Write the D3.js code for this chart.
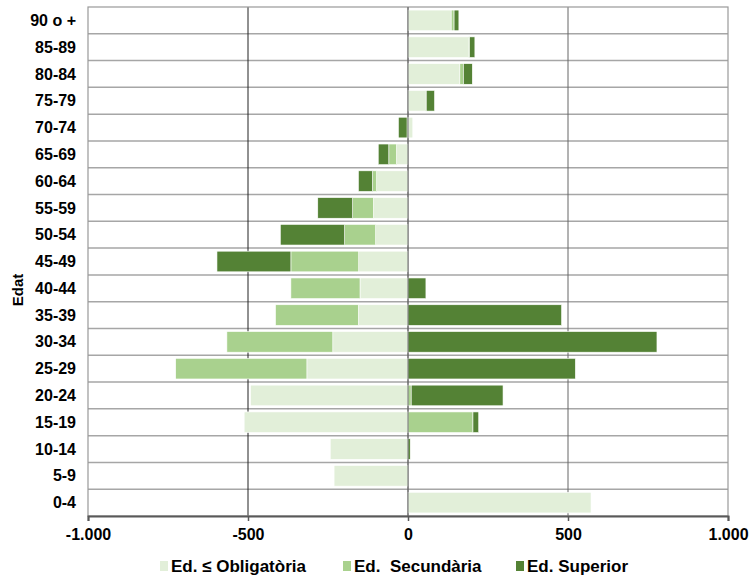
<!DOCTYPE html>
<html>
<head>
<meta charset="utf-8">
<script src="https://cdn.jsdelivr.net/npm/d3@7"></script>
<style>
  body { margin: 0; background: #fff; }
  svg text { font-family: "Liberation Sans", Arial, sans-serif; font-weight: bold; fill: #000; }
</style>
</head>
<body>
<svg id="chart" width="752" height="579"></svg>
<script>
const ages = ["90 o +", "85-89", "80-84", "75-79", "70-74", "65-69", "60-64", "55-59", "50-54",
  "45-49", "40-44", "35-39", "30-34", "25-29", "20-24", "15-19", "10-14", "5-9", "0-4"];
const obligatoria = [135, 189, 162, 54, 15, -36, -98, -108, -101, -154, -150, -155, -235, -316, -492, -512, -243, -231, 572];
const secundaria = [9, 3, 11, 3, -3, -24, -13, -65, -97, -212, -216, -259, -331, -410, 10, 203, 0, 0, 0];
const superior = [15, 17, 28, 26, -27, -33, -44, -109, -201, -231, 56, 480, 778, 523, 287, 18, 7, 0, 0];
const seriesNames = ["Ed. \u2264 Obligat\u00f2ria", "Ed.\u00a0 Secund\u00e0ria", "Ed. Superior"];
const colors = ["#e2efd9", "#a9d18e", "#548235"];
const xTicks = [-1000, -500, 0, 500, 1000];

const svg = d3.select("#chart");
const margin = { top: 7, left: 88, right: 24, bottom: 63 };

const x = d3.scaleLinear().domain([-1000, 1000]).range([margin.left, 728]);
const y = d3.scaleBand().domain(ages).range([margin.top, 516]).paddingInner(0).paddingOuter(0);

// horizontal grid lines between categories
const g = svg.append("g");
ages.forEach((a, i) => {
  if (i === 0) return;
  g.append("line")
    .attr("x1", x(-1000)).attr("x2", x(1000))
    .attr("y1", y(a)).attr("y2", y(a))
    .attr("stroke", "#a6a6a6").attr("stroke-width", 1.5);
});

// vertical grid lines
[-500, 0, 500].forEach(v => {
  g.append("line")
    .attr("x1", x(v)).attr("x2", x(v))
    .attr("y1", margin.top).attr("y2", 516)
    .attr("stroke", v === -500 ? "#222" : "#666").attr("stroke-width", 1);
});

// plot border
svg.append("rect")
  .attr("x", x(-1000)).attr("y", margin.top)
  .attr("width", x(1000) - x(-1000)).attr("height", 516 - margin.top)
  .attr("fill", "none").attr("stroke", "#999").attr("stroke-width", 1.2);

// stack bars: positives go right, negatives go left
const series = [obligatoria, secundaria, superior];
const bh = y.bandwidth() * 0.77;
ages.forEach((a, i) => {
  let pos = 0, neg = 0;
  series.forEach((s, k) => {
    const v = s[i];
    if (v === 0) return;
    let x0, x1;
    if (v > 0) { x0 = pos; x1 = pos + v; pos = x1; }
    else { x1 = neg; x0 = neg + v; neg = x0; }
    svg.append("rect")
      .attr("x", x(x0)).attr("width", x(x1) - x(x0))
      .attr("y", y(a) + (y.bandwidth() - bh) / 2).attr("height", bh)
      .attr("fill", colors[k])
      .attr("stroke", "#fff").attr("stroke-width", 0.6);
  });
});

// zero line over the bars
svg.append("line")
  .attr("x1", x(0)).attr("x2", x(0))
  .attr("y1", margin.top).attr("y2", 516)
  .attr("stroke", "#666").attr("stroke-width", 1);

// x axis
const xAxis = svg.append("g")
  .attr("transform", `translate(0,516)`)
  .call(d3.axisBottom(x).tickValues(xTicks).tickSize(5).tickPadding(8)
    .tickFormat(d => d3.format(",")(d).replace(/,/g, ".").replace("\u2212", "-")));
xAxis.select(".domain").attr("stroke", "#595959").attr("stroke-width", 2);
xAxis.selectAll(".tick line").attr("stroke", "#595959").attr("stroke-width", 1.5);
xAxis.selectAll("text").attr("font-size", 16);

// y labels
svg.append("g").selectAll("text")
  .data(ages).enter().append("text")
  .attr("x", 76)
  .attr("y", d => y(d) + y.bandwidth() / 2)
  .attr("dy", "0.35em")
  .attr("text-anchor", "end")
  .attr("font-size", 16)
  .text(d => d);

svg.append("text")
  .attr("transform", "translate(23,290) rotate(-90)")
  .attr("text-anchor", "middle")
  .attr("font-size", 15)
  .text("Edat");

// legend
const legendX = [160, 343, 516];
const leg = svg.append("g");
seriesNames.forEach((n, k) => {
  leg.append("rect")
    .attr("x", legendX[k]).attr("y", 561)
    .attr("width", 8).attr("height", 10)
    .attr("fill", colors[k]);
  leg.append("text")
    .attr("x", legendX[k] + 11).attr("y", 566)
    .attr("dy", "0.36em")
    .attr("font-size", 17)
    .text(n);
});
</script>
</body>
</html>
